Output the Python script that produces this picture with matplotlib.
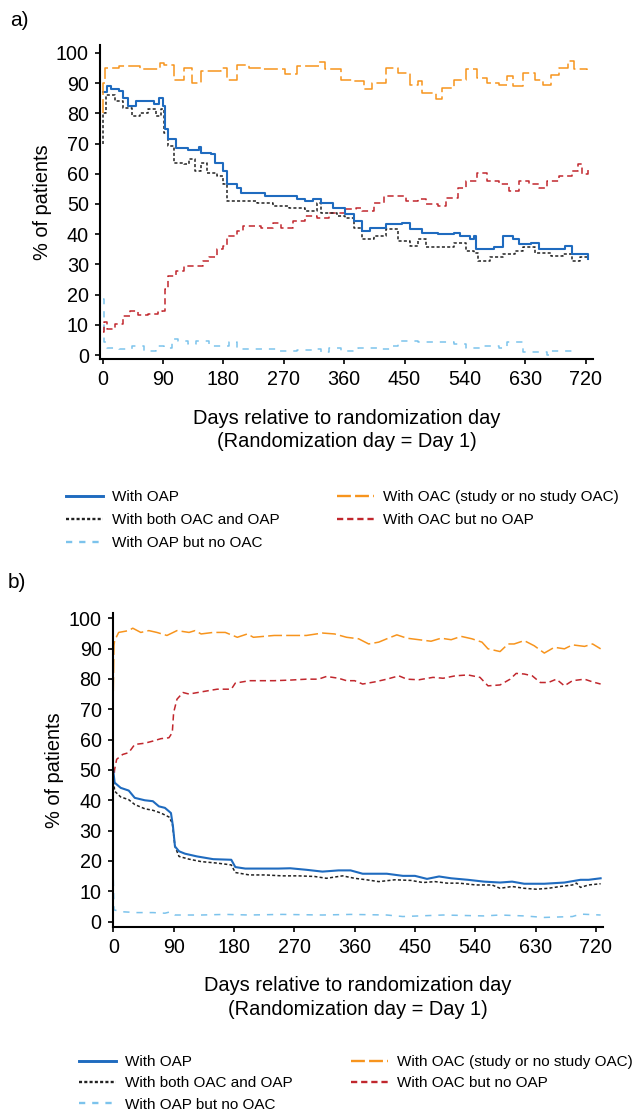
import matplotlib.pyplot as plt
from matplotlib.lines import Line2D

plt.rcParams['font.family'] = ['Liberation Sans', 'DejaVu Sans']
plt.rcParams['lines.scale_dashes'] = False

# ---- panel a) ----
a_oac_days = [0, 1, 3, 25, 55, 85, 91, 106, 121, 133, 146, 176, 185, 200, 218, 236, 254, 272, 290, 308,
              323, 332, 344, 356, 374, 389, 401, 410, 422, 440, 458, 470, 476, 497, 506, 524, 542, 558, 573, 591,
              603, 612, 627, 645, 657, 669, 681, 693, 702, 722]
a_oac = [80, 90, 95, 95.6, 94.5, 96.7, 96, 91, 95, 90, 94, 95, 91, 96, 95, 94.5, 94.5, 93, 95.6, 95.6,
         97, 94.5, 94.5, 91, 90.6, 88, 90, 90, 95, 93.4, 89.5, 90.6, 86.8, 84.8, 88.4, 91, 94.5, 91.7, 90, 89.5,
         92.3, 89, 93.4, 91, 89.5, 92.8, 95, 97.2, 94.5, 94.3]

a_oap_days = [0, 6, 13, 25, 31, 37, 49, 67, 76, 84, 90, 93, 97, 109, 127, 143, 146, 161, 167, 179,
              185, 200, 206, 236, 242, 290, 302, 314, 326, 344, 362, 374, 386, 398, 422, 446, 458, 476, 500, 524,
              533, 548, 554, 556, 584, 597, 612, 621, 639, 651, 675, 690, 699, 711, 723]
a_oap = [87, 89, 88, 87.3, 85, 82.4, 84, 84, 83, 85, 82.4, 74.7, 71.4, 68.6, 68, 69, 67, 66.4, 63.7, 61,
         56.5, 55.4, 53.7, 53.7, 52.6, 51.5, 51, 51.5, 50.4, 48.8, 46.6, 44.4, 41, 42.2, 43.3, 43.8, 41.6, 40.5, 40, 40.5,
         39.4, 38.3, 39.4, 35, 35.6, 39.4, 38.3, 36.7, 37.2, 35, 35, 36.1, 33.4, 33.4, 31.7]

a_both_days = [0, 1, 5, 19, 31, 43, 55, 67, 79, 87, 91, 97, 106, 121, 128, 137, 146, 155, 170, 179,
               186, 206, 230, 254, 278, 302, 320, 326, 350, 362, 374, 386, 404, 422, 440, 458, 470, 482, 506, 524,
               542, 554, 560, 578, 597, 615, 627, 645, 669, 687, 699, 711, 723]
a_both = [70, 80, 86.2, 84, 81.8, 79, 80, 81.3, 79, 81.3, 73.6, 69.2, 63.7, 63.1, 64.8, 61, 63.7, 60.4, 59.3, 56.5,
          51, 51, 50.4, 49.3, 48.8, 47.7, 50.4, 47.1, 46, 45.5, 42.2, 38.3, 39.4, 41.6, 37.8, 36.1, 38.3, 35.6, 35.6, 37.2,
          34.5, 33.9, 31.2, 32.3, 33.4, 34.5, 35.6, 33.9, 32.8, 33.4, 31.2, 32.3, 32]

a_oac_no_oap_days = [0, 2, 7, 19, 31, 40, 52, 67, 82, 88, 93, 97, 109, 121, 139, 149, 158, 170, 180, 185,
                     200, 209, 236, 254, 266, 284, 302, 320, 338, 362, 377, 386, 404, 419, 440, 452, 470, 482, 500, 512,
                     530, 542, 558, 573, 591, 606, 621, 636, 651, 663, 681, 699, 708, 714, 723]
a_oac_no_oap = [7.5, 10.8, 8.6, 10.2, 13, 14.6, 13.2, 13.5, 14.1, 14.6, 21.8, 26.2, 27.9, 29.5, 29.5, 31.2, 32.3, 35, 36.1, 39.4,
                41, 42.7, 42.2, 43.8, 42.2, 44.4, 46, 45.5, 47.1, 48.2, 48.8, 47.7, 50.4, 52.6, 52.6, 51, 51.5, 49.9, 49.3, 52,
                55.4, 57.6, 60.4, 57.6, 56.5, 54.3, 57.6, 56.5, 55.4, 57.6, 59.3, 61, 63.1, 59.8, 61.5]

a_oap_no_oac_days = [0, 2, 7, 25, 43, 61, 79, 91, 103, 112, 127, 139, 158, 170, 188, 200, 230, 260, 290, 314,
                     326, 338, 356, 380, 416, 431, 440, 470, 506, 524, 542, 566, 591, 603, 618, 627, 651, 663, 669, 699]
a_oap_no_oac = [18.5, 4.2, 2.5, 2, 3, 1.4, 3, 2.5, 5.3, 4.7, 3.6, 4.7, 3, 3, 4.2, 2, 2, 1.4, 1.8, 2,
                0.9, 2.5, 1.4, 2.2, 2, 3, 4.7, 4.2, 4.2, 3.6, 2.2, 3, 2.5, 4.2, 4.2, 1.1, 1.1, 0, 1.4, 0]

# ---- panel b) ----
b_oac_days = [0, 1, 2, 8, 23, 29, 41, 53, 65, 80, 95, 113, 122, 131, 149, 167, 185, 200, 209, 240,
              264, 288, 312, 330, 348, 366, 381, 396, 408, 423, 438, 456, 474, 489, 504, 519, 535, 550, 559, 577,
              589, 598, 613, 628, 643, 658, 673, 685, 703, 715, 727]
b_oac = [76, 91, 92.6, 95.3, 95.9, 96.7, 95.3, 95.9, 95.3, 94.3, 95.9, 95.3, 95.9, 94.8, 95.3, 95.3, 93.7, 94.8, 93.7, 94.3,
         94.3, 94.3, 95.1, 94.8, 93.7, 93.2, 91.5, 92.1, 93.2, 94.5, 93.4, 92.9, 92.4, 93.4, 92.9, 94, 93.2, 92.1, 89.9, 89,
         91.5, 91.5, 92.6, 90.9, 88.5, 90.4, 89.9, 91.2, 90.7, 91.5, 89.9]

b_oac_no_oap_days = [0, 2, 5, 14, 23, 32, 47, 59, 71, 83, 88, 90, 95, 104, 113, 131, 155, 176, 182, 203,
                     240, 264, 288, 306, 318, 336, 348, 360, 372, 390, 408, 426, 438, 456, 477, 492, 510, 529, 547, 559,
                     577, 592, 601, 613, 625, 637, 649, 661, 673, 685, 703, 715, 727]
b_oac_no_oap = [45.7, 50.2, 53.5, 55.1, 55.7, 58.4, 58.8, 59.5, 60.3, 60.6, 62.3, 68.9, 73.3, 75.5, 75, 75.7, 76.6, 76.6, 78.6, 79.4,
                79.4, 79.6, 79.9, 79.9, 80.8, 80.2, 79.4, 79.4, 78.3, 79, 79.9, 81, 79.9, 79.7, 80.5, 80.2, 81, 81.3, 80.5, 77.7,
                78, 79.9, 81.8, 81.6, 81, 78.8, 78.8, 79.9, 77.7, 79.4, 79.9, 79, 78.3]

b_oap_days = [0, 2, 11, 23, 32, 47, 59, 68, 77, 86, 89, 92, 98, 107, 125, 149, 176, 182, 197, 221,
              246, 264, 288, 312, 336, 354, 372, 408, 432, 450, 468, 486, 504, 529, 553, 577, 595, 613, 643, 673,
              697, 709, 727]
b_oap = [49.6, 45.8, 44.1, 43.2, 40.8, 40, 39.7, 38, 37.5, 35.8, 31.4, 24.8, 23.2, 22.4, 21.5, 20.6, 20.4, 18, 17.5, 17.5,
         17.5, 17.6, 17.1, 16.5, 16.9, 16.9, 15.8, 15.8, 15.1, 15.1, 14.1, 14.9, 14.3, 13.8, 13.2, 12.9, 13.2, 12.5, 12.5, 12.9,
         13.8, 13.8, 14.3]

b_both_days = [0, 2, 11, 23, 32, 47, 59, 71, 83, 88, 92, 98, 113, 131, 155, 176, 182, 203, 227, 252,
               276, 300, 318, 342, 360, 378, 396, 420, 444, 462, 480, 498, 516, 541, 565, 577, 595, 613, 631, 649,
               667, 685, 691, 697, 709, 727]
b_both = [48, 43, 41.1, 40.2, 38.6, 37.2, 36.7, 35.8, 34.5, 32.5, 24.8, 21.5, 20.6, 19.8, 19.3, 18.7, 16.2, 15.4, 15.4, 15.1,
          15.1, 14.9, 14.3, 15.1, 14.3, 13.8, 13.2, 13.8, 13.6, 12.9, 13.2, 12.7, 12.7, 12.1, 12.1, 11, 11.6, 11, 10.7, 11,
          11.6, 12.1, 12.7, 11.3, 12.1, 12.5]

b_oap_no_oac_days = [0, 1, 11, 35, 59, 77, 86, 92, 131, 167, 203, 252, 312, 354, 408, 432, 492, 553, 577, 613,
                     643, 685, 697, 727]
b_oap_no_oac = [13.8, 3.9, 3.3, 3, 3, 2.8, 3.3, 2.2, 2.2, 2.4, 2.2, 2.4, 2.2, 2.4, 2.2, 1.7, 2.2, 1.9, 2.2, 1.9,
                1.4, 1.7, 2.5, 2.2]

labels = ['With OAP', 'With both OAC and OAP', 'With OAP but no OAC',
          'With OAC (study or no study OAC)', 'With OAC but no OAP']
x_ticks = [0, 90, 180, 270, 360, 450, 540, 630, 720]
y_ticks = [0, 10, 20, 30, 40, 50, 60, 70, 80, 90, 100]

# colour, width, dashes (None = solid) for the 5 series, in label order
styles = [
    dict(color='#1F6BBF', lw=1.5, dashes=None),
    dict(color='#222222', lw=1.1, dashes=(2.2, 1.6)),
    dict(color='#7CC3EC', lw=1.1, dashes=(4.5, 5)),
    dict(color='#F7941D', lw=1.1, dashes=(10, 3)),
    dict(color='#C1272D', lw=1.1, dashes=(4.5, 2.8)),
]


def draw(ax, x, y, st, step):
    kw = dict(color=st['color'], lw=st['lw'])
    if step:
        kw['drawstyle'] = 'steps-post'
    line, = ax.plot(x, y, **kw)
    if st['dashes'] is not None:
        line.set_dashes(st['dashes'])


def style_axes(ax, ylim, xlim):
    ax.set_xlim(*xlim)
    ax.set_ylim(*ylim)
    ax.set_xticks(x_ticks)
    ax.set_yticks(y_ticks)
    for s in ['top', 'right']:
        ax.spines[s].set_visible(False)
    for s in ['left', 'bottom']:
        ax.spines[s].set_linewidth(1.5)
    ax.tick_params(labelsize=14.2, length=3.5, width=1.2, pad=4.5)
    ax.set_ylabel('% of patients', fontsize=14.4, labelpad=3)
    ax.set_xlabel('Days relative to randomization day\n(Randomization day = Day 1)',
                  fontsize=14.4, labelpad=14, linespacing=1.3)


def add_legend(fig, x_left, x_right, y_top, spacing):
    hs = []
    for st in styles:
        h = Line2D([], [], color=st['color'], lw=st['lw'] + 0.6)
        if st['dashes'] is not None:
            h.set_dashes(st['dashes'])
        hs.append(h)
    common = dict(frameon=False, fontsize=11, handlelength=2.42, handletextpad=0.6,
                  labelspacing=spacing, borderpad=0, borderaxespad=0, loc='upper left')
    fig.legend(hs[:3], labels[:3], bbox_to_anchor=(x_left / 632, 1 - y_top / 1115), **common)
    fig.legend(hs[3:], labels[3:], bbox_to_anchor=(x_right / 632, 1 - y_top / 1115), **common)


fig = plt.figure(figsize=(6.32, 11.15), dpi=100)

ax1 = fig.add_axes([100 / 632, 1 - 359 / 1115, 493 / 632, 314 / 1115])
draw(ax1, a_oap_no_oac_days, a_oap_no_oac, styles[2], True)
draw(ax1, a_oac_no_oap_days, a_oac_no_oap, styles[4], True)
draw(ax1, a_both_days, a_both, styles[1], True)
draw(ax1, a_oap_days, a_oap, styles[0], True)
draw(ax1, a_oac_days, a_oac, styles[3], True)
style_axes(ax1, (-1.3, 102.6), (-4, 731))

ax2 = fig.add_axes([112.7 / 632, 1 - 926.7 / 1115, 490.6 / 632, 314 / 1115])
draw(ax2, b_oap_no_oac_days, b_oap_no_oac, styles[2], False)
draw(ax2, b_oac_no_oap_days, b_oac_no_oap, styles[4], False)
draw(ax2, b_both_days, b_both, styles[1], False)
draw(ax2, b_oap_days, b_oap, styles[0], False)
draw(ax2, b_oac_days, b_oac, styles[3], False)
style_axes(ax2, (-1.65, 101.8), (-0.9, 731))

fig.text(10 / 632, 1 - 20 / 1115, 'a)', fontsize=15, va='center', ha='left')
fig.text(8 / 632, 1 - 583 / 1115, 'b)', fontsize=15, va='center', ha='left')

add_legend(fig, 66, 337, 490, 0.6)
add_legend(fig, 79, 351, 1055, 0.48)

fig.savefig('out.png', dpi=100)
